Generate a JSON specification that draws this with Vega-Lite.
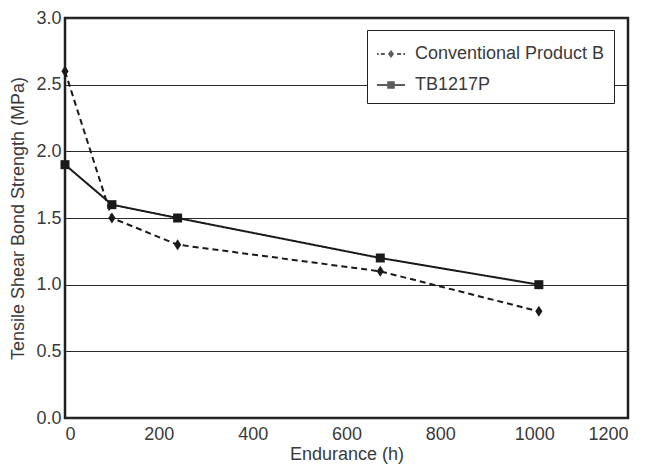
{
  "$schema": "https://vega.github.io/schema/vega-lite/v6.json",
  "width": 563,
  "height": 400,
  "autosize": {"type": "none"},
  "padding": {"left": 65, "top": 18, "right": 20, "bottom": 50},
  "background": "white",
  "config": {
    "font": "Liberation Sans",
    "view": {"stroke": "#231f20", "strokeWidth": 2.5},
    "axis": {
      "labelFont": "Liberation Sans",
      "titleFont": "Liberation Sans",
      "labelFontSize": 18,
      "titleFontSize": 18,
      "labelColor": "#3a3a3a",
      "titleColor": "#3a3a3a",
      "titleFontWeight": "normal",
      "ticks": false,
      "tickSize": 0,
      "domain": false
    },
    "legend": {
      "labelFont": "Liberation Sans",
      "labelFontSize": 18,
      "labelColor": "#3a3a3a",
      "labelLimit": 400
    }
  },
  "data": {
    "values": [
      {"hours": 0, "strength": 2.6, "series": "Conventional Product B"},
      {"hours": 100, "strength": 1.5, "series": "Conventional Product B"},
      {"hours": 240, "strength": 1.3, "series": "Conventional Product B"},
      {"hours": 672, "strength": 1.1, "series": "Conventional Product B"},
      {"hours": 1010, "strength": 0.8, "series": "Conventional Product B"},
      {"hours": 0, "strength": 1.9, "series": "TB1217P"},
      {"hours": 100, "strength": 1.6, "series": "TB1217P"},
      {"hours": 240, "strength": 1.5, "series": "TB1217P"},
      {"hours": 672, "strength": 1.2, "series": "TB1217P"},
      {"hours": 1010, "strength": 1.0, "series": "TB1217P"}
    ]
  },
  "encoding": {
    "x": {
      "field": "hours",
      "type": "quantitative",
      "scale": {"domain": [0, 1200], "nice": false},
      "axis": {
        "title": "Endurance (h)",
        "values": [0, 200, 400, 600, 800, 1000, 1200],
        "format": "d",
        "grid": false,
        "labelPadding": 7,
        "titlePadding": 2
      }
    },
    "y": {
      "field": "strength",
      "type": "quantitative",
      "scale": {"domain": [0, 3], "nice": false},
      "axis": {
        "title": "Tensile Shear Bond Strength (MPa)",
        "values": [0, 0.5, 1, 1.5, 2, 2.5, 3],
        "format": ".1f",
        "grid": true,
        "gridColor": "#2a2a2a",
        "gridWidth": 1,
        "labelPadding": 4,
        "titlePadding": 8
      }
    }
  },
  "layer": [
    {
      "mark": {"type": "line", "color": "#1a1a1a", "strokeWidth": 2},
      "encoding": {
        "detail": {"field": "series"},
        "strokeDash": {
          "field": "series",
          "type": "nominal",
          "scale": {"domain": ["TB1217P", "Conventional Product B"], "range": [[1, 0], [6, 4]]},
          "legend": null
        }
      }
    },
    {
      "transform": [{"filter": "datum.series == 'Conventional Product B'"}],
      "mark": {"type": "point", "filled": true, "color": "#1a1a1a", "opacity": 1, "size": 81, "shape": "M0,-1.22L0.8,0L0,1.22L-0.8,0Z"}
    },
    {
      "transform": [{"filter": "datum.series == 'TB1217P'"}],
      "mark": {"type": "point", "filled": true, "color": "#1a1a1a", "opacity": 1, "size": 81, "shape": "square"}
    },
    {
      "mark": {"type": "point", "filled": true, "fill": "#1a1a1a", "size": 0},
      "encoding": {
        "shape": {
          "field": "series",
          "type": "nominal",
          "scale": {
            "domain": ["Conventional Product B", "TB1217P"],
            "range": [
              "M-1,-0.07H-0.88V0.07H-1ZM-0.72,-0.07H-0.44V0.07H-0.72ZM0,-0.28L0.22,0L0,0.28L-0.22,0ZM0.44,-0.07H0.72V0.07H0.44ZM0.88,-0.07H1V0.07H0.88Z",
              "M-1,-0.07H1V0.07H-1ZM-0.27,-0.27H0.27V0.27H-0.27Z"
            ]
          },
          "legend": {
            "title": null,
            "orient": "none",
            "legendX": 302,
            "legendY": 12,
            "padding": 9,
            "fillColor": "white",
            "strokeColor": "#231f20",
            "rowPadding": 7,
            "symbolSize": 784,
            "symbolFillColor": "#1a1a1a",
            "labelOffset": 9
          }
        }
      }
    }
  ]
}
